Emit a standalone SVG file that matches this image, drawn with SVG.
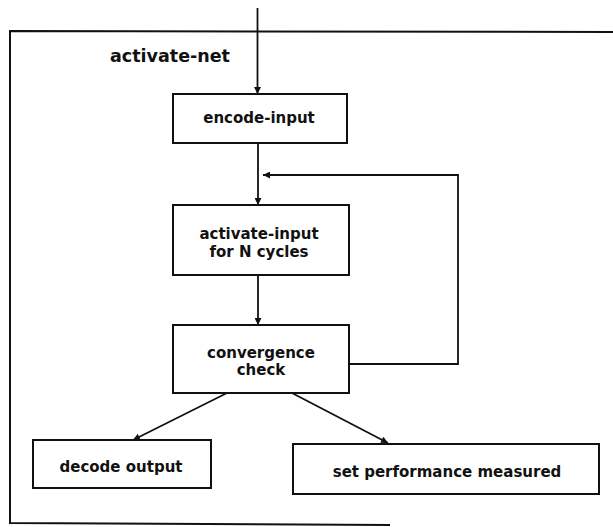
<svg xmlns="http://www.w3.org/2000/svg" width="613" height="527" viewBox="0 0 613 527">
<style>
.box{fill:#fff;stroke:#111;stroke-width:2}
.lbl{font-family:"DejaVu Sans",sans-serif;font-weight:bold;font-size:15px;fill:#111;text-anchor:middle}
.title{font-family:"DejaVu Sans",sans-serif;font-weight:bold;font-size:17.5px;fill:#111}
.edge{fill:none;stroke:#111;stroke-width:1.8}
.frame{fill:none;stroke:#111;stroke-width:2}
</style>
<defs>
<marker id="ah" viewBox="0 0 10 10" refX="10" refY="5" markerWidth="7" markerHeight="7" markerUnits="userSpaceOnUse" orient="auto">
<path d="M0,0 L10,5 L0,10 Z" fill="#111"/>
</marker>
</defs>
<g id="frame">
<path class="frame" d="M613,32 L10,31 L10,523 L390,525"/>
<text class="title" x="110" y="62">activate-net</text>
</g>
<g id="connectors">
<path class="edge" d="M257.5,8 L257.5,94" marker-end="url(#ah)"/>
<path class="edge" d="M258,143 L258,205" marker-end="url(#ah)"/>
<path class="edge" d="M258,275 L258,325" marker-end="url(#ah)"/>
<path class="edge" d="M349,364 L458,364 L458,175 L263,175" marker-end="url(#ah)"/>
<path class="edge" d="M227,393 L133,440" marker-end="url(#ah)"/>
<path class="edge" d="M292,393 L388,443" marker-end="url(#ah)"/>
</g>
<g id="encode-input">
<rect class="box" x="173" y="94" width="174" height="49"/>
<text class="lbl" x="259" y="123">encode-input</text>
</g>
<g id="activate-input">
<rect class="box" x="173" y="205" width="176" height="70"/>
<text class="lbl" x="259" y="239">activate-input</text>
<text class="lbl" x="259" y="257">for N cycles</text>
</g>
<g id="convergence-check">
<rect class="box" x="173" y="325" width="176" height="68"/>
<text class="lbl" x="261" y="358">convergence</text>
<text class="lbl" x="261" y="375">check</text>
</g>
<g id="decode-output">
<rect class="box" x="33" y="440" width="178" height="48"/>
<text class="lbl" x="121" y="472">decode output</text>
</g>
<g id="set-performance">
<rect class="box" x="293" y="444" width="306" height="50"/>
<text class="lbl" x="447" y="477">set performance measured</text>
</g>
</svg>
